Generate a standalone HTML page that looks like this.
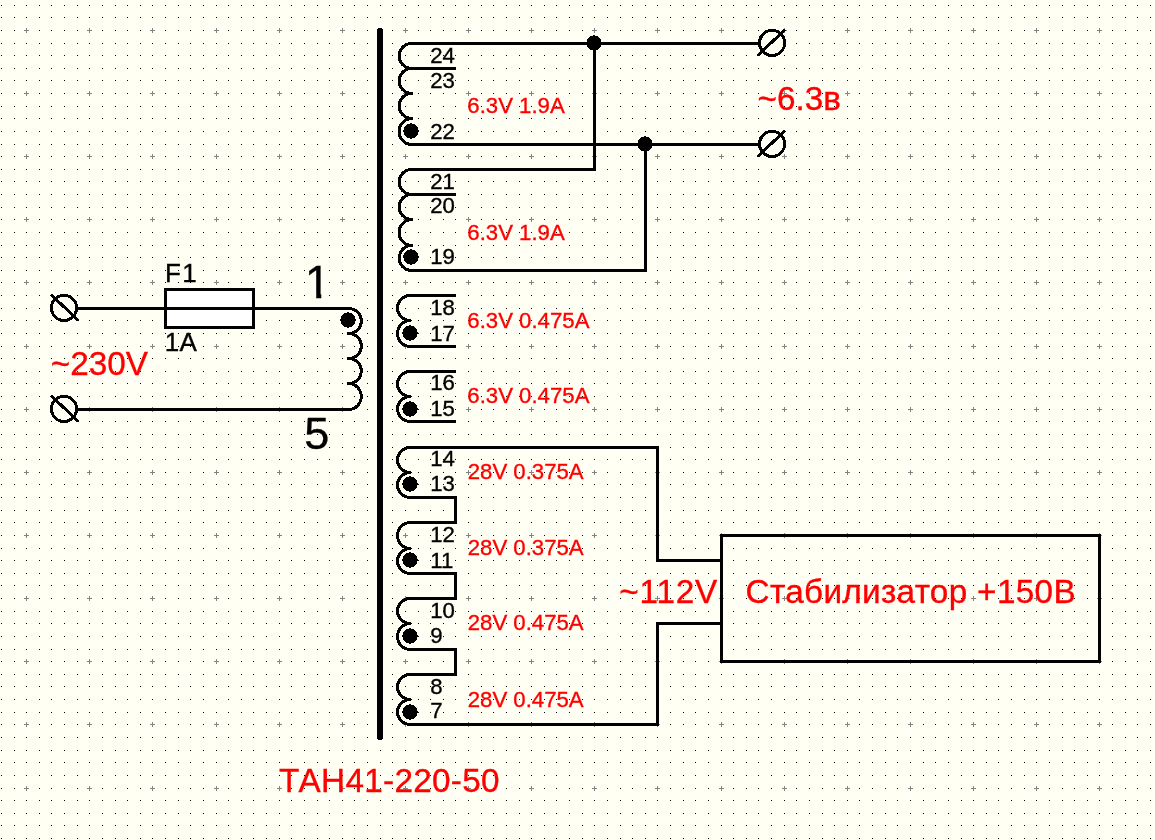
<!DOCTYPE html>
<html lang="ru"><head><meta charset="utf-8"><title>ТАН41-220-50</title>
<style>html,body{margin:0;padding:0;background:#FFFFF3;overflow:hidden}svg{display:block}text{font-family:"Liberation Sans",Arial,sans-serif;white-space:pre}.r{fill:#ff0000;stroke:#ff0000;stroke-width:.35px}.k{fill:#000;stroke:#000;stroke-width:.35px}.w{fill:none;stroke:#000;stroke-width:3;stroke-linecap:round;stroke-linejoin:round}circle,rect,line,.w{shape-rendering:crispEdges}</style></head><body>
<svg width="1155" height="840" viewBox="0 0 1155 840">
<rect width="1155" height="840" fill="#FFFFF3"/>
<defs><path id="gr" d="M1 .5h1M14 .5h1M26 .5h1M39 .5h1M51 .5h1M64 .5h1M77 .5h1M89 .5h1M102 .5h1M115 .5h1M127 .5h1M140 .5h1M152 .5h1M165 .5h1M178 .5h1M190 .5h1M203 .5h1M216 .5h1M228 .5h1M241 .5h1M253 .5h1M266 .5h1M279 .5h1M291 .5h1M304 .5h1M317 .5h1M329 .5h1M342 .5h1M354 .5h1M367 .5h1M380 .5h1M392 .5h1M405 .5h1M418 .5h1M430 .5h1M443 .5h1M455 .5h1M468 .5h1M481 .5h1M493 .5h1M506 .5h1M519 .5h1M531 .5h1M544 .5h1M556 .5h1M569 .5h1M582 .5h1M594 .5h1M607 .5h1M620 .5h1M632 .5h1M645 .5h1M657 .5h1M670 .5h1M683 .5h1M695 .5h1M708 .5h1M721 .5h1M733 .5h1M746 .5h1M758 .5h1M771 .5h1M784 .5h1M796 .5h1M809 .5h1M822 .5h1M834 .5h1M847 .5h1M859 .5h1M872 .5h1M885 .5h1M897 .5h1M910 .5h1M923 .5h1M935 .5h1M948 .5h1M961 .5h1M973 .5h1M986 .5h1M998 .5h1M1011 .5h1M1024 .5h1M1036 .5h1M1049 .5h1M1062 .5h1M1074 .5h1M1087 .5h1M1099 .5h1M1112 .5h1M1125 .5h1M1137 .5h1M1150 .5h1" stroke="#000" stroke-width="1" fill="none" shape-rendering="crispEdges"/></defs>
<g>
<use href="#gr" y="5"/>
<use href="#gr" y="17"/>
<use href="#gr" y="30"/>
<use href="#gr" y="43"/>
<use href="#gr" y="55"/>
<use href="#gr" y="68"/>
<use href="#gr" y="80"/>
<use href="#gr" y="93"/>
<use href="#gr" y="106"/>
<use href="#gr" y="118"/>
<use href="#gr" y="131"/>
<use href="#gr" y="144"/>
<use href="#gr" y="156"/>
<use href="#gr" y="169"/>
<use href="#gr" y="181"/>
<use href="#gr" y="194"/>
<use href="#gr" y="207"/>
<use href="#gr" y="219"/>
<use href="#gr" y="232"/>
<use href="#gr" y="245"/>
<use href="#gr" y="257"/>
<use href="#gr" y="270"/>
<use href="#gr" y="282"/>
<use href="#gr" y="295"/>
<use href="#gr" y="308"/>
<use href="#gr" y="320"/>
<use href="#gr" y="333"/>
<use href="#gr" y="346"/>
<use href="#gr" y="358"/>
<use href="#gr" y="371"/>
<use href="#gr" y="383"/>
<use href="#gr" y="396"/>
<use href="#gr" y="409"/>
<use href="#gr" y="421"/>
<use href="#gr" y="434"/>
<use href="#gr" y="447"/>
<use href="#gr" y="459"/>
<use href="#gr" y="472"/>
<use href="#gr" y="484"/>
<use href="#gr" y="497"/>
<use href="#gr" y="510"/>
<use href="#gr" y="522"/>
<use href="#gr" y="535"/>
<use href="#gr" y="548"/>
<use href="#gr" y="560"/>
<use href="#gr" y="573"/>
<use href="#gr" y="585"/>
<use href="#gr" y="598"/>
<use href="#gr" y="611"/>
<use href="#gr" y="623"/>
<use href="#gr" y="636"/>
<use href="#gr" y="649"/>
<use href="#gr" y="661"/>
<use href="#gr" y="674"/>
<use href="#gr" y="686"/>
<use href="#gr" y="699"/>
<use href="#gr" y="712"/>
<use href="#gr" y="724"/>
<use href="#gr" y="737"/>
<use href="#gr" y="750"/>
<use href="#gr" y="762"/>
<use href="#gr" y="775"/>
<use href="#gr" y="788"/>
<use href="#gr" y="800"/>
<use href="#gr" y="813"/>
<use href="#gr" y="825"/>
<use href="#gr" y="838"/>
</g>
<path d="M24 30.5h5M26.5 28v5M24 93.5h5M26.5 91v5M24 156.5h5M26.5 154v5M24 219.5h5M26.5 217v5M24 282.5h5M26.5 280v5M24 346.5h5M26.5 344v5M24 409.5h5M26.5 407v5M24 472.5h5M26.5 470v5M24 535.5h5M26.5 533v5M24 598.5h5M26.5 596v5M24 661.5h5M26.5 659v5M24 724.5h5M26.5 722v5M24 788.5h5M26.5 786v5M87 30.5h5M89.5 28v5M87 93.5h5M89.5 91v5M87 156.5h5M89.5 154v5M87 219.5h5M89.5 217v5M87 282.5h5M89.5 280v5M87 346.5h5M89.5 344v5M87 409.5h5M89.5 407v5M87 472.5h5M89.5 470v5M87 535.5h5M89.5 533v5M87 598.5h5M89.5 596v5M87 661.5h5M89.5 659v5M87 724.5h5M89.5 722v5M87 788.5h5M89.5 786v5M150 30.5h5M152.5 28v5M150 93.5h5M152.5 91v5M150 156.5h5M152.5 154v5M150 219.5h5M152.5 217v5M150 282.5h5M152.5 280v5M150 346.5h5M152.5 344v5M150 409.5h5M152.5 407v5M150 472.5h5M152.5 470v5M150 535.5h5M152.5 533v5M150 598.5h5M152.5 596v5M150 661.5h5M152.5 659v5M150 724.5h5M152.5 722v5M150 788.5h5M152.5 786v5M214 30.5h5M216.5 28v5M214 93.5h5M216.5 91v5M214 156.5h5M216.5 154v5M214 219.5h5M216.5 217v5M214 282.5h5M216.5 280v5M214 346.5h5M216.5 344v5M214 409.5h5M216.5 407v5M214 472.5h5M216.5 470v5M214 535.5h5M216.5 533v5M214 598.5h5M216.5 596v5M214 661.5h5M216.5 659v5M214 724.5h5M216.5 722v5M214 788.5h5M216.5 786v5M277 30.5h5M279.5 28v5M277 93.5h5M279.5 91v5M277 156.5h5M279.5 154v5M277 219.5h5M279.5 217v5M277 282.5h5M279.5 280v5M277 346.5h5M279.5 344v5M277 409.5h5M279.5 407v5M277 472.5h5M279.5 470v5M277 535.5h5M279.5 533v5M277 598.5h5M279.5 596v5M277 661.5h5M279.5 659v5M277 724.5h5M279.5 722v5M277 788.5h5M279.5 786v5M340 30.5h5M342.5 28v5M340 93.5h5M342.5 91v5M340 156.5h5M342.5 154v5M340 219.5h5M342.5 217v5M340 282.5h5M342.5 280v5M340 346.5h5M342.5 344v5M340 409.5h5M342.5 407v5M340 472.5h5M342.5 470v5M340 535.5h5M342.5 533v5M340 598.5h5M342.5 596v5M340 661.5h5M342.5 659v5M340 724.5h5M342.5 722v5M340 788.5h5M342.5 786v5M403 30.5h5M405.5 28v5M403 93.5h5M405.5 91v5M403 156.5h5M405.5 154v5M403 219.5h5M405.5 217v5M403 282.5h5M405.5 280v5M403 346.5h5M405.5 344v5M403 409.5h5M405.5 407v5M403 472.5h5M405.5 470v5M403 535.5h5M405.5 533v5M403 598.5h5M405.5 596v5M403 661.5h5M405.5 659v5M403 724.5h5M405.5 722v5M403 788.5h5M405.5 786v5M466 30.5h5M468.5 28v5M466 93.5h5M468.5 91v5M466 156.5h5M468.5 154v5M466 219.5h5M468.5 217v5M466 282.5h5M468.5 280v5M466 346.5h5M468.5 344v5M466 409.5h5M468.5 407v5M466 472.5h5M468.5 470v5M466 535.5h5M468.5 533v5M466 598.5h5M468.5 596v5M466 661.5h5M468.5 659v5M466 724.5h5M468.5 722v5M466 788.5h5M468.5 786v5M529 30.5h5M531.5 28v5M529 93.5h5M531.5 91v5M529 156.5h5M531.5 154v5M529 219.5h5M531.5 217v5M529 282.5h5M531.5 280v5M529 346.5h5M531.5 344v5M529 409.5h5M531.5 407v5M529 472.5h5M531.5 470v5M529 535.5h5M531.5 533v5M529 598.5h5M531.5 596v5M529 661.5h5M531.5 659v5M529 724.5h5M531.5 722v5M529 788.5h5M531.5 786v5M592 30.5h5M594.5 28v5M592 93.5h5M594.5 91v5M592 156.5h5M594.5 154v5M592 219.5h5M594.5 217v5M592 282.5h5M594.5 280v5M592 346.5h5M594.5 344v5M592 409.5h5M594.5 407v5M592 472.5h5M594.5 470v5M592 535.5h5M594.5 533v5M592 598.5h5M594.5 596v5M592 661.5h5M594.5 659v5M592 724.5h5M594.5 722v5M592 788.5h5M594.5 786v5M655 30.5h5M657.5 28v5M655 93.5h5M657.5 91v5M655 156.5h5M657.5 154v5M655 219.5h5M657.5 217v5M655 282.5h5M657.5 280v5M655 346.5h5M657.5 344v5M655 409.5h5M657.5 407v5M655 472.5h5M657.5 470v5M655 535.5h5M657.5 533v5M655 598.5h5M657.5 596v5M655 661.5h5M657.5 659v5M655 724.5h5M657.5 722v5M655 788.5h5M657.5 786v5M719 30.5h5M721.5 28v5M719 93.5h5M721.5 91v5M719 156.5h5M721.5 154v5M719 219.5h5M721.5 217v5M719 282.5h5M721.5 280v5M719 346.5h5M721.5 344v5M719 409.5h5M721.5 407v5M719 472.5h5M721.5 470v5M719 535.5h5M721.5 533v5M719 598.5h5M721.5 596v5M719 661.5h5M721.5 659v5M719 724.5h5M721.5 722v5M719 788.5h5M721.5 786v5M782 30.5h5M784.5 28v5M782 93.5h5M784.5 91v5M782 156.5h5M784.5 154v5M782 219.5h5M784.5 217v5M782 282.5h5M784.5 280v5M782 346.5h5M784.5 344v5M782 409.5h5M784.5 407v5M782 472.5h5M784.5 470v5M782 535.5h5M784.5 533v5M782 598.5h5M784.5 596v5M782 661.5h5M784.5 659v5M782 724.5h5M784.5 722v5M782 788.5h5M784.5 786v5M845 30.5h5M847.5 28v5M845 93.5h5M847.5 91v5M845 156.5h5M847.5 154v5M845 219.5h5M847.5 217v5M845 282.5h5M847.5 280v5M845 346.5h5M847.5 344v5M845 409.5h5M847.5 407v5M845 472.5h5M847.5 470v5M845 535.5h5M847.5 533v5M845 598.5h5M847.5 596v5M845 661.5h5M847.5 659v5M845 724.5h5M847.5 722v5M845 788.5h5M847.5 786v5M908 30.5h5M910.5 28v5M908 93.5h5M910.5 91v5M908 156.5h5M910.5 154v5M908 219.5h5M910.5 217v5M908 282.5h5M910.5 280v5M908 346.5h5M910.5 344v5M908 409.5h5M910.5 407v5M908 472.5h5M910.5 470v5M908 535.5h5M910.5 533v5M908 598.5h5M910.5 596v5M908 661.5h5M910.5 659v5M908 724.5h5M910.5 722v5M908 788.5h5M910.5 786v5M971 30.5h5M973.5 28v5M971 93.5h5M973.5 91v5M971 156.5h5M973.5 154v5M971 219.5h5M973.5 217v5M971 282.5h5M973.5 280v5M971 346.5h5M973.5 344v5M971 409.5h5M973.5 407v5M971 472.5h5M973.5 470v5M971 535.5h5M973.5 533v5M971 598.5h5M973.5 596v5M971 661.5h5M973.5 659v5M971 724.5h5M973.5 722v5M971 788.5h5M973.5 786v5M1034 30.5h5M1036.5 28v5M1034 93.5h5M1036.5 91v5M1034 156.5h5M1036.5 154v5M1034 219.5h5M1036.5 217v5M1034 282.5h5M1036.5 280v5M1034 346.5h5M1036.5 344v5M1034 409.5h5M1036.5 407v5M1034 472.5h5M1036.5 470v5M1034 535.5h5M1036.5 533v5M1034 598.5h5M1036.5 596v5M1034 661.5h5M1036.5 659v5M1034 724.5h5M1036.5 722v5M1034 788.5h5M1036.5 786v5M1097 30.5h5M1099.5 28v5M1097 93.5h5M1099.5 91v5M1097 156.5h5M1099.5 154v5M1097 219.5h5M1099.5 217v5M1097 282.5h5M1099.5 280v5M1097 346.5h5M1099.5 344v5M1097 409.5h5M1099.5 407v5M1097 472.5h5M1099.5 470v5M1097 535.5h5M1099.5 533v5M1097 598.5h5M1099.5 596v5M1097 661.5h5M1099.5 659v5M1097 724.5h5M1099.5 722v5M1097 788.5h5M1099.5 786v5" stroke="#838383" stroke-width="1" fill="none" shape-rendering="crispEdges"/>
<line x1="380.1" y1="30.6" x2="380.1" y2="737.4" stroke="#000" stroke-width="6" stroke-linecap="round"/>
<path class="w" d="M411.77 43.5A12.63 12.5 0 0 0 411.77 68.5A12.63 12.5 0 0 0 411.77 93.5A12.63 12.5 0 0 0 411.77 118.5A12.63 13 0 0 0 411.77 144.5M411.77 43.5H758.87M410.77 68.5H455M411.77 144.5H758.87M411.77 169.5A12.63 12.5 0 0 0 411.77 194.5A12.63 12.5 0 0 0 411.77 219.5A12.63 13 0 0 0 411.77 245.5A12.63 12.5 0 0 0 411.77 270.5M411.77 169.5H594.5V43.5M410.77 194.5H455M411.77 270.5H645.5V144.5M410.17 295.5A12.63 12.5 0 0 0 410.17 320.5A12.63 13 0 0 0 410.17 346.5M410.17 295.5H455M410.17 346.5H455M410.17 371.5A12.63 12.5 0 0 0 410.17 396.5A12.63 12.5 0 0 0 410.17 421.5M410.17 371.5H455M410.17 421.5H455M410.17 447.5A12.63 12.5 0 0 0 410.17 472.5A12.63 12.5 0 0 0 410.17 497.5M410.17 522.5A12.63 13 0 0 0 410.17 548.5A12.63 12.5 0 0 0 410.17 573.5M410.17 598.5A12.63 12.5 0 0 0 410.17 623.5A12.63 13 0 0 0 410.17 649.5M410.17 674.5A12.63 12.5 0 0 0 410.17 699.5A12.63 12.5 0 0 0 410.17 724.5M410.17 447.5H657.5V560.5H721.5M410.17 497.5H455.5V522.5H410.17M410.17 573.5H455.5V598.5H410.17M410.17 649.5H455.5V674.5H410.17M410.17 724.5H657.5V623.5H721.5M348.64 308.5A12.63 12.5 0 0 1 348.64 333.5A12.63 12.5 0 0 1 348.64 358.5A12.63 12.5 0 0 1 348.64 383.5A12.63 13 0 0 1 348.64 409.5M77.13 308.5H348.64M77.13 409.5H348.64"/>
<rect x="165.5" y="289.5" width="88" height="38" fill="#fff" stroke="#000" stroke-width="3"/>
<path class="w" d="M165.5 308.5H253.5"/>
<rect x="721.5" y="535.5" width="378" height="126" fill="none" stroke="#000" stroke-width="3"/>
<circle cx="772.05" cy="42.9" r="12.6" fill="none" stroke="#000" stroke-width="3"/>
<path class="w" style="stroke-width:3" d="M758.35 54.8L784.25 30.4"/>
<circle cx="772.05" cy="143.9" r="12.6" fill="none" stroke="#000" stroke-width="3"/>
<path class="w" style="stroke-width:3" d="M758.35 155.8L784.25 131.4"/>
<circle cx="64" cy="307.9" r="12.6" fill="none" stroke="#000" stroke-width="3"/>
<path class="w" style="stroke-width:3" d="M77.7 319.8L51.8 295.4"/>
<circle cx="64" cy="408.9" r="12.6" fill="none" stroke="#000" stroke-width="3"/>
<path class="w" style="stroke-width:3" d="M77.7 420.8L51.8 396.4"/>
<circle cx="594" cy="43" r="7.65" fill="#000"/>
<circle cx="645" cy="144" r="7.65" fill="#000"/>
<circle cx="411" cy="131" r="7.65" fill="#000"/>
<circle cx="411" cy="257" r="7.65" fill="#000"/>
<circle cx="410" cy="333" r="7.65" fill="#000"/>
<circle cx="410" cy="409" r="7.65" fill="#000"/>
<circle cx="410" cy="484" r="7.65" fill="#000"/>
<circle cx="410" cy="560" r="7.65" fill="#000"/>
<circle cx="410" cy="636" r="7.65" fill="#000"/>
<circle cx="410" cy="712" r="7.65" fill="#000"/>
<circle cx="348" cy="320" r="7.65" fill="#000"/>
<filter id="ng" x="0" y="0" width="100%" height="100%" filterUnits="userSpaceOnUse" color-interpolation-filters="sRGB"><feOffset dx="0" dy="0"/></filter>
<g filter="url(#ng)">
<text class="k" transform="matrix(1 0 0 1 430.2 62.8)" font-size="22.2">24</text>
<text class="k" transform="matrix(1 0 0 1 430.2 87.8)" font-size="22.2">23</text>
<text class="k" transform="matrix(1 0 0 1 430.2 138.6)" font-size="22.2">22</text>
<text class="k" transform="matrix(1 0 0 1 430.2 188.7)" font-size="22.2">21</text>
<text class="k" transform="matrix(1 0 0 1 430.2 213.1)" font-size="22.2">20</text>
<text class="k" transform="matrix(1 0 0 1 430.2 264.4)" font-size="22.2">19</text>
<text class="k" transform="matrix(1 0 0 1 430.2 314.6)" font-size="22.2">18</text>
<text class="k" transform="matrix(1 0 0 1 430.2 340.5)" font-size="22.2">17</text>
<text class="k" transform="matrix(1 0 0 1 430.2 390.3)" font-size="22.2">16</text>
<text class="k" transform="matrix(1 0 0 1 430.2 415.6)" font-size="22.2">15</text>
<text class="k" transform="matrix(1 0 0 1 430.2 466.4)" font-size="22.2">14</text>
<text class="k" transform="matrix(1 0 0 1 430.2 491.4)" font-size="22.2">13</text>
<text class="k" transform="matrix(1 0 0 1 430.2 541.8)" font-size="22.2">12</text>
<text class="k" transform="matrix(1 0 0 1 430.2 567.5)" font-size="22.2">11</text>
<text class="k" transform="matrix(1 0 0 1 430.2 617.5)" font-size="22.2">10</text>
<text class="k" transform="matrix(1 0 0 1 430.2 643.3)" font-size="22.2">9</text>
<text class="k" transform="matrix(1 0 0 1 430.2 693.5)" font-size="22.2">8</text>
<text class="k" transform="matrix(1 0 0 1 430.2 718.3)" font-size="22.2">7</text>
<text class="r" transform="matrix(1 0 0 1 467.3 112.8)" font-size="22.2">6.3V 1.9A</text>
<text class="r" transform="matrix(1 0 0 1 467.3 239.5)" font-size="22.2">6.3V 1.9A</text>
<text class="r" transform="matrix(1 0 0 1 467.3 327.5)" font-size="22.2">6.3V 0.475A</text>
<text class="r" transform="matrix(1 0 0 1 467.3 403.4)" font-size="22.2">6.3V 0.475A</text>
<text class="r" transform="matrix(1 0 0 1 467.7 478.7)" font-size="22.2">28V 0.375A</text>
<text class="r" transform="matrix(1 0 0 1 467.7 554.7)" font-size="22.2">28V 0.375A</text>
<text class="r" transform="matrix(1 0 0 1 467.7 630.3)" font-size="22.2">28V 0.475A</text>
<text class="r" transform="matrix(1 0 0 1 467.7 706.5)" font-size="22.2">28V 0.475A</text>
<text class="r" transform="matrix(1 0 0 1 757.6 109.9)" font-size="33.3">~6.3в</text>
<text class="r" transform="matrix(1 0 0 1 50.7 375)" font-size="33.3">~230V</text>
<text class="r" transform="matrix(1 0 0 1 619.3 603.1)" font-size="33.3" style="letter-spacing:0.8px">~112V</text>
<text class="r" transform="matrix(1 0 0 1 745.6 603)" font-size="33.3" style="letter-spacing:0.32px">Стабилизатор +150В</text>
<text class="r" transform="matrix(1 0 0 1 279.05 791.9)" font-size="33.3" style="letter-spacing:0.29px">ТАН41-220-50</text>
<text class="k" transform="matrix(1 0 0 1 164.9 281.9)" font-size="26" style="letter-spacing:1.58px">F1</text>
<text class="k" transform="matrix(1 0 0 1 164.67 350.5)" font-size="26" style="letter-spacing:0.48px">1A</text>
<clipPath id="c1"><path d="M1.42 -46H16.44V2H11.37V-4.44H1.42Z"/></clipPath>
<text class="k" transform="matrix(1 0 0 1 304.87 297.9)" font-size="46" clip-path="url(#c1)">1</text>
<text class="k" transform="matrix(1 0 0 1 304.3 448.8)" font-size="45">5</text>
</g>
</svg></body></html>
